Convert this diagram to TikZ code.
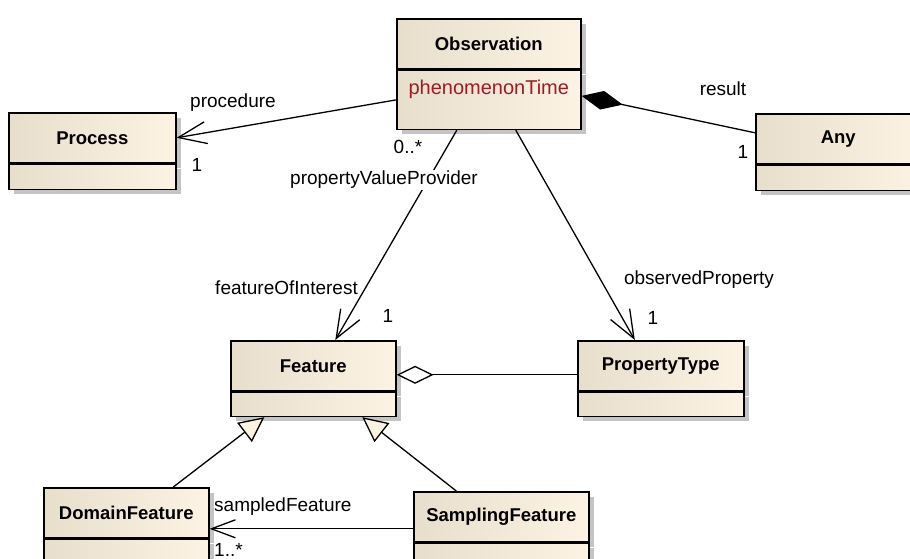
\documentclass[tikz,border=0pt]{standalone}
\usepackage{fontspec}
\setmainfont{Liberation Sans}
\usetikzlibrary{arrows.meta,shadows}
\definecolor{clsL}{RGB}{232,222,204}
\definecolor{clsR}{RGB}{252,243,228}
\definecolor{shadowgray}{RGB}{196,196,196}
\definecolor{attrred}{RGB}{160,28,36}
\definecolor{trifill}{RGB}{251,242,226}

\begin{document}
\begin{tikzpicture}[x=1pt,y=-1pt,
  clsbox/.style={draw, line width=1.6pt, left color=clsL, right color=clsR, inner sep=0pt,
    drop shadow={shadow xshift=5pt, shadow yshift=-5pt, fill=shadowgray, opacity=1}},
  clshead/.style={clsbox, minimum height=50pt, font=\fontsize{18.5}{22}\selectfont\bfseries},
  clsbody/.style={clsbox},
  attrtxt/.style={text=attrred, font=\fontsize{20}{22}\selectfont, inner sep=1pt},
  rolelbl/.style={font=\fontsize{19}{22}\selectfont, inner sep=1pt},
  assoc/.style={line width=1.3pt},
  navarrow/.style={-{Straight Barb[length=28pt,width=22pt]}},
  navsmall/.style={-{Straight Barb[length=24pt,width=18pt]}},
  genarrow/.style={-{Triangle[length=25pt,width=24pt,fill=trifill]}}]

\useasboundingbox (0,0) rectangle (910,559);
\clip (0,0) rectangle (910,559);

% classes: name, left, top, width, body height, title
\foreach \nm/\x/\y/\w/\bh/\txt in {obs/396/18/184/59/Observation,
  proc/8/112/167/25/Process, any/755/113/165/25/Any,
  feat/230/340/165/24/Feature, ptype/577/340/166/24/PropertyType,
  dom/43/487/165/25/DomainFeature, samp/413/491/175/25/SamplingFeature}
{
\node[clshead, minimum width=\w pt, anchor=north west] (\nm) at (\x,\y) {\txt};
\node[clsbody, minimum width=\w pt, minimum height=\bh pt, anchor=north] (\nm-a) at (\nm.south) {};
}

\node[attrtxt] (obs-time) at ([yshift=-20pt]obs-a.north) {phenomenonTime};

% associations
\draw[assoc, navarrow] (obs-a.west) -- (proc.east);
\draw[assoc, {Diamond[length=42pt,width=19pt,fill=black]}-] ([yshift=4pt]obs-a.east) -- ([yshift=6pt]any.west);
\draw[assoc, navarrow] ([xshift=-32pt]obs-a.south) -- ([xshift=22pt]feat.north);
\draw[assoc, navarrow] ([xshift=27pt]obs-a.south) -- ([xshift=-26pt]ptype.north);
\draw[assoc, {Diamond[length=37pt,width=18pt,fill=white]}-] ([yshift=-9pt]feat.east) -- ([yshift=-9pt]ptype.west);

% generalizations
\draw[assoc, genarrow] ([xshift=47pt]dom.north) -- ([xshift=-49pt]feat-a.south);
\draw[assoc, genarrow] ([xshift=-45pt]samp.north) -- ([xshift=49pt]feat-a.south);

\coordinate (sf-start) at ([yshift=-12pt]samp.west);
\draw[assoc, navsmall] (sf-start) -- (sf-start -| dom.east);

% role names and multiplicities
\node[rolelbl, anchor=west] (proc-role) at (189,103) {procedure};
\node[rolelbl] (proc-mult) at (197,165) {1};
\node[rolelbl] (obs-mult) at (408,147) {0..*};
\node[rolelbl, fill=white] (pvp-role) at (384,180) {propertyValueProvider};
\node[rolelbl, fill=white, anchor=east] (foi-role) at (359,288) {featureOfInterest};
\node[rolelbl] (foi-mult) at (388,316) {1};
\node[rolelbl] (op-role) at (699,280) {observedProperty};
\node[rolelbl] (op-mult) at (653,318) {1};
\node[rolelbl] (res-role) at (723,89) {result};
\node[rolelbl] (res-mult) at (743,152) {1};
\node[rolelbl, anchor=west] (sf-role) at (213,507) {sampledFeature};
\node[rolelbl, anchor=west] (sf-mult) at (213,550) {1..*};
\end{tikzpicture}
\end{document}
